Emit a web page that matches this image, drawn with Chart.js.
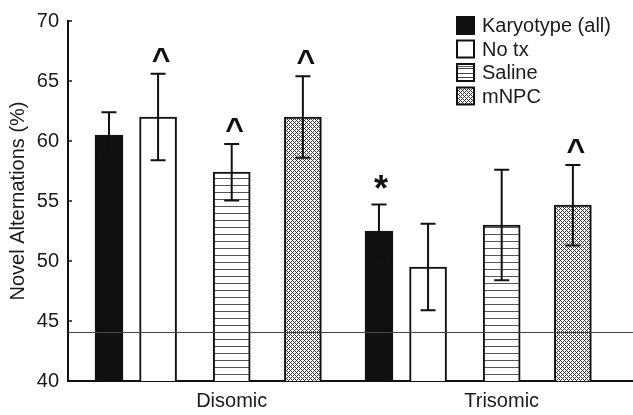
<!DOCTYPE html>
<html>
<head>
<meta charset="utf-8">
<script src="https://cdn.jsdelivr.net/npm/chart.js@4/dist/chart.umd.min.js"></script>
<style>
  html, body { margin: 0; padding: 0; background: #fff; }
  #wrap { width: 633px; height: 415px; position: relative; }
</style>
</head>
<body>
<div id="wrap"><canvas id="c" width="633" height="415"></canvas></div>
<script>
// ---- data ----
const groups = ['Disomic', 'Trisomic'];
const seriesNames = ['Karyotype (all)', 'No tx', 'Saline', 'mNPC'];
const karyotypeMean = [60.5, 52.5];
const karyotypeErr  = [1.9, 2.2];
const noTxMean      = [62.0, 49.5];
const noTxErr       = [3.6, 3.6];
const salineMean    = [57.4, 53.0];
const salineErr     = [2.35, 4.6];
const mnpcMean      = [62.0, 54.65];
const mnpcErr       = [3.4, 3.35];
const karyotypeMarks = ['', '*'];
const noTxMarks      = ['^', ''];
const salineMarks    = ['^', ''];
const mnpcMarks      = ['^', '^'];
const chanceLevel = 44.1;
const yTicks = [40, 45, 50, 55, 60, 65, 70];

const means = [karyotypeMean, noTxMean, salineMean, mnpcMean];
const errs  = [karyotypeErr, noTxErr, salineErr, mnpcErr];
const marks = [karyotypeMarks, noTxMarks, salineMarks, mnpcMarks];

// ---- layout (style) ----
const GROUP_STEP = 11;             // slot units between groups
const SLOT = [0, 2, 5, 7.9];       // bar slot within a group
const LABEL_SLOT = 5;
const X_MIN = -1.67, X_MAX = 21.35;
const FONT = "'Liberation Sans', Arial, sans-serif";
const TXT = '#1a1a1a';

function makePattern(kind) {
  const c = document.createElement('canvas');
  const ctx = c.getContext('2d');
  if (kind === 'stripes') {
    c.width = 8; c.height = 7;
    ctx.fillStyle = '#fff'; ctx.fillRect(0, 0, 8, 7);
    ctx.fillStyle = '#555'; ctx.fillRect(0, 3, 8, 1);
  } else {
    c.width = 4; c.height = 4;
    ctx.fillStyle = '#fff'; ctx.fillRect(0, 0, 4, 4);
    ctx.fillStyle = '#3a3a3a';
    for (let y = 0; y < 4; y++) for (let x = 0; x < 4; x++) {
      if ((x + y) % 4 === 0 || ((x - y) % 4 + 4) % 4 === 0) ctx.fillRect(x, y, 1, 1);
    }
  }
  return ctx.createPattern(c, 'repeat');
}

const fills = ['#111111', '#ffffff', makePattern('stripes'), makePattern('cross')];
const thickness = [28, 37, 37, 37];

const datasets = seriesNames.map((name, si) => ({
  label: name,
  data: groups.map((g, gi) => ({ x: gi * GROUP_STEP + SLOT[si], y: means[si][gi] })),
  backgroundColor: fills[si],
  borderColor: '#111',
  borderWidth: 2,
  borderSkipped: false,
  barThickness: thickness[si],
  grouped: false
}));

const overlay = {
  id: 'overlay',
  afterDatasetsDraw(chart) {
    const ctx = chart.ctx;
    const ys = chart.scales.y;
    const area = chart.chartArea;
    ctx.save();
    // chance line
    const yc = Math.round(ys.getPixelForValue(chanceLevel)) + 0.5;
    ctx.strokeStyle = '#444';
    ctx.lineWidth = 1.2;
    ctx.beginPath(); ctx.moveTo(area.left, yc); ctx.lineTo(area.right, yc); ctx.stroke();
    // error bars + marks
    chart.data.datasets.forEach((ds, si) => {
      const meta = chart.getDatasetMeta(si);
      meta.data.forEach((el, gi) => {
        const m = means[si][gi], e = errs[si][gi];
        const x = el.x;
        const top = ys.getPixelForValue(m + e);
        const bot = ys.getPixelForValue(m - e);
        ctx.strokeStyle = '#111';
        ctx.lineWidth = 2;
        ctx.beginPath();
        ctx.moveTo(x, top); ctx.lineTo(x, bot);
        ctx.moveTo(x - 7.5, top); ctx.lineTo(x + 7.5, top);
        ctx.moveTo(x - 7.5, bot); ctx.lineTo(x + 7.5, bot);
        ctx.stroke();
        const mk = marks[si][gi];
        if (mk) {
          ctx.fillStyle = '#111';
          ctx.textAlign = 'center';
          ctx.textBaseline = 'middle';
          if (mk === '^') {
            ctx.font = 'bold 32px ' + FONT;
            ctx.fillText(mk, x + 3, top - 13);
          } else {
            ctx.font = 'bold 36px ' + FONT;
            ctx.fillText(mk, x + 2, top - 14);
          }
        }
      });
    });
    ctx.restore();
  },
  afterDraw(chart) {
    const ctx = chart.ctx;
    const ys = chart.scales.y;
    const area = chart.chartArea;
    ctx.save();
    // inward ticks
    ctx.strokeStyle = '#111';
    ctx.lineWidth = 1.5;
    ys.ticks.forEach(t => {
      const y = ys.getPixelForValue(t.value);
      ctx.beginPath(); ctx.moveTo(area.left, y); ctx.lineTo(area.left + 4, y); ctx.stroke();
    });
    // legend
    const bx = 457, by = 17, step = 23.5, bs = 17;
    chart.data.datasets.forEach((ds, si) => {
      const y0 = by + si * step;
      ctx.fillStyle = ds.backgroundColor;
      ctx.fillRect(bx, y0, bs, bs);
      if (si === 2) {
        ctx.strokeStyle = '#444'; ctx.lineWidth = 1;
        for (let k = 1; k <= 3; k++) {
          const yy = Math.round(y0 + k * bs / 4) + 0.5;
          ctx.beginPath(); ctx.moveTo(bx, yy); ctx.lineTo(bx + bs, yy); ctx.stroke();
        }
      }
      ctx.strokeStyle = '#111'; ctx.lineWidth = 2;
      ctx.strokeRect(bx, y0, bs, bs);
      ctx.fillStyle = TXT;
      ctx.font = '20px ' + FONT;
      ctx.textAlign = 'left';
      ctx.textBaseline = 'middle';
      ctx.fillText(ds.label, bx + 25, y0 + bs / 2 + 1);
    });
    ctx.restore();
  }
};

new Chart(document.getElementById('c'), {
  type: 'bar',
  data: { datasets },
  options: {
    responsive: false,
    animation: false,
    layout: { padding: { top: 15, right: 0, left: 0, bottom: 0 } },
    plugins: { legend: { display: false }, tooltip: { enabled: false } },
    scales: {
      x: {
        type: 'linear',
        offset: false,
        min: X_MIN, max: X_MAX,
        grid: { display: false, drawTicks: false },
        border: { display: true, color: '#111', width: 2 },
        afterBuildTicks(scale) {
          scale.ticks = groups.map((g, gi) => ({ value: gi * GROUP_STEP + LABEL_SLOT }));
        },
        afterFit(scale) { scale.height = 34; },
        ticks: {
          autoSkip: false,
          maxRotation: 0,
          padding: 8,
          color: TXT,
          font: { family: FONT, size: 20 },
          callback: (v, i) => groups[i]
        }
      },
      y: {
        min: 40, max: 70,
        grid: { display: false, drawTicks: false },
        border: { display: true, color: '#111', width: 2 },
        afterBuildTicks(scale) { scale.ticks = yTicks.map(v => ({ value: v })); },
        afterFit(scale) { scale.width = 68; },
        ticks: {
          padding: 9,
          color: TXT,
          font: { family: FONT, size: 20 }
        },
        title: {
          display: true,
          text: 'Novel Alternations (%)',
          color: TXT,
          font: { family: FONT, size: 20 },
          padding: { top: 6, bottom: 0 }
        }
      }
    }
  },
  plugins: [overlay]
});
</script>
</body>
</html>
